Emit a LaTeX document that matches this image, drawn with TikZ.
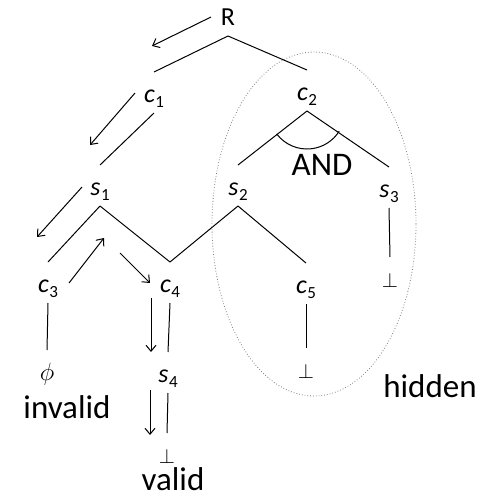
\documentclass[tikz,border=0pt]{standalone}
\usepackage{fontspec}
\setmainfont{Carlito}
\usepackage{tikz}
\usetikzlibrary{arrows.meta}

% italic letter with a small upright index
\newcommand{\vlab}[2]{\textit{#1}\kern0.5pt\raisebox{-5.5pt}{\fontsize{17}{17}\selectfont #2}}

\begin{document}
\begin{tikzpicture}[x=1pt, y=1pt,
    lbl/.style={anchor=base, inner sep=0pt, font=\fontsize{26}{30}\selectfont},
    word/.style={anchor=base, inner sep=0pt, font=\fontsize{33}{38}\selectfont},
    botm/.style={anchor=base, inner sep=0pt, font=\fontsize{21}{24}\selectfont},
    tedge/.style={line width=1pt},
    walk/.style={line width=1pt, -{Straight Barb[length=6pt, width=10pt]}}]
  \useasboundingbox (0,0) rectangle (481,-501);
  % Labels of the tree
  \node[lbl] (R)  at (228,-25)  {R};
  \node[lbl] (c1) at (154,-102) {\vlab{c}{1}};
  \node[lbl] (c2) at (307,-100) {\vlab{c}{2}};
  \node[lbl] (s1) at (100,-195) {\vlab{s}{1}};
  \node[lbl] (s2) at (238,-195) {\vlab{s}{2}};
  \node[lbl] (s3) at (389,-197) {\vlab{s}{3}};
  \node[lbl] (c3) at (48,-292)  {\vlab{c}{3}};
  \node[lbl] (c4) at (170,-292) {\vlab{c}{4}};
  \node[lbl] (c5) at (306,-293) {\vlab{c}{5}};
  \node[lbl] (s4) at (168,-382) {\vlab{s}{4}};
  \node[lbl] (phi) at (47,-380) {$\phi$};
  \node[botm] (b3) at (390,-287) {$\bot$};
  \node[botm] (b5) at (306,-378) {$\bot$};
  \node[botm] (b4) at (167,-463) {$\bot$};
  % Words
  \node[word] (and)     at (322,-175) {AND};
  \node[word] (invalid) at (67,-418)  {invalid};
  \node[word] (hidden)  at (430,-397) {hidden};
  \node[word] (valid)   at (173,-490) {valid};
  % Tree edges
  \foreach \p/\c in {R/c1, R/c2, c1/s1, s1/c3, s1/c4, s2/c4, s2/c5,
                     c2/s2, c2/s3, c3/phi, c4/s4, s4/b4, c5/b5, s3/b3}
    \draw[tedge] ([yshift=-11pt]\p.base) -- ([yshift=30pt]\c.base);
  % AND arc
  \draw[tedge] ([yshift=-11pt]c2.base) ++(217:38) arc (217:328:38);
  % Hidden part
  \draw[gray, dotted, line width=0.8pt] (314,-224) ellipse (102 and 172);
  % Search steps
  \draw[walk] (211,-17) -- (152,-46);
  \draw[walk] (135,-93) -- (90,-145);
  \draw[walk] (82,-187) -- (37,-237);
  \draw[walk] (69,-283) -- (104,-238);
  \draw[walk] (120,-253) -- (150,-283);
  \draw[walk] (151,-298) -- (151,-352);
  \draw[walk] (150,-390) -- (150,-435);
\end{tikzpicture}
\end{document}
